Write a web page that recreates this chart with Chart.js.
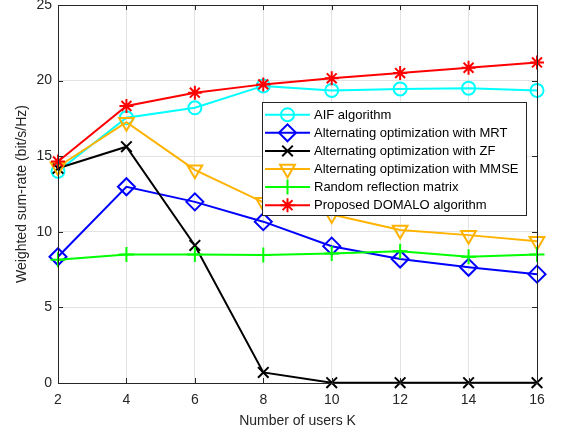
<!DOCTYPE html>
<html>
<head>
<meta charset="utf-8">
<style>
  html, body { margin: 0; padding: 0; background: #fff; }
  #wrap { width: 562px; height: 436px; }
</style>
<script src="https://cdn.jsdelivr.net/npm/chart.js@4/dist/chart.umd.min.js"></script>
</head>
<body>
<div id="wrap"><canvas id="c" width="562" height="436"></canvas></div>
<script>
// Number of users K
const users = [2, 4, 6, 8, 10, 12, 14, 16];

// Weighted sum-rate (bit/s/Hz) per scheme
const aif    = [14.0, 17.55, 18.2, 19.65, 19.35, 19.45, 19.5, 19.35];
const mrt    = [8.35, 12.98, 11.98, 10.67, 9.05, 8.2, 7.65, 7.2];
const zf     = [14.2, 15.63, 9.1, 0.7, 0.02, 0.02, 0.02, 0.02];
const mmse   = [14.3, 17.25, 14.1, 11.95, 11.15, 10.12, 9.78, 9.38];
const random = [8.15, 8.5, 8.5, 8.47, 8.57, 8.72, 8.35, 8.5];
const domalo = [14.65, 18.32, 19.2, 19.75, 20.15, 20.5, 20.85, 21.2];

const seriesNames = [
  'AIF algorithm',
  'Alternating optimization with MRT',
  'Alternating optimization with ZF',
  'Alternating optimization with MMSE',
  'Random reflection matrix',
  'Proposed DOMALO algorithm'
];
const seriesValues = [aif, mrt, zf, mmse, random, domalo];
const seriesColors = ['#00ffff', '#0000ff', '#000000', '#ffb300', '#00ff00', '#ff0000'];
const seriesMarkers = [
  { style: 'circle', radius: 6.5, rotation: 0 },
  { style: 'rectRot', radius: 8.5, rotation: 0 },
  { style: 'crossRot', radius: 7.5, rotation: 0 },
  { style: 'triangle', radius: 8.5, rotation: 180 },
  { style: 'cross', radius: 7.5, rotation: 0 },
  { style: 'star', radius: 7, rotation: 0 }
];

const yTicks = [0, 5, 10, 15, 20, 25];
const xTicks = users;

const AXIS = '#262626';
Chart.defaults.font.family = "'Liberation Sans', Arial, Helvetica, sans-serif";

const datasets = seriesNames.map((name, i) => ({
  label: name,
  data: users.map((k, j) => ({ x: k, y: seriesValues[i][j] })),
  borderColor: seriesColors[i],
  backgroundColor: 'rgba(0,0,0,0)',
  borderWidth: 2,
  pointStyle: seriesMarkers[i].style,
  pointRadius: seriesMarkers[i].radius,
  pointRotation: seriesMarkers[i].rotation,
  pointBorderWidth: 2,
  pointBorderColor: seriesColors[i],
  pointBackgroundColor: 'rgba(0,0,0,0)',
  tension: 0,
  clip: false,
  order: seriesNames.length - 1 - i
}));

// Fixed plot rectangle (axes box) inside the canvas
const pinArea = {
  id: 'pinArea',
  afterLayout(chart) {
    const T = 5, B = 383, L = 58, R = 537, H = chart.height;
    Object.assign(chart.chartArea, { top: T, bottom: B, left: L, right: R, width: R - L, height: B - T });
    const { x, y } = chart.scales;
    Object.assign(y, { top: T, bottom: B, height: B - T, left: 0, right: L, width: L });
    Object.assign(x, { left: L, right: R, width: R - L, top: B, bottom: H, height: H - B });
    x.configure();
    y.configure();
  }
};

// Box outline with inward tick marks on all four sides
const boxPlugin = {
  id: 'box',
  afterDatasetsDraw(chart) {
    const { ctx, chartArea: a, scales } = chart;
    ctx.save();
    ctx.strokeStyle = AXIS;
    ctx.lineWidth = 1;
    ctx.beginPath();
    ctx.rect(Math.round(a.left) + 0.5, Math.round(a.top) + 0.5,
             Math.round(a.right - a.left), Math.round(a.bottom - a.top));
    ctx.stroke();
    const tl = 5;
    ctx.beginPath();
    xTicks.forEach(v => {
      const x = Math.round(scales.x.getPixelForValue(v)) + 0.5;
      ctx.moveTo(x, a.bottom); ctx.lineTo(x, a.bottom - tl);
      ctx.moveTo(x, a.top); ctx.lineTo(x, a.top + tl);
    });
    yTicks.forEach(v => {
      const y = Math.round(scales.y.getPixelForValue(v)) + 0.5;
      ctx.moveTo(a.left, y); ctx.lineTo(a.left + tl, y);
      ctx.moveTo(a.right, y); ctx.lineTo(a.right - tl, y);
    });
    ctx.stroke();
    ctx.restore();
  }
};

// Legend box inside the plot area
const legendPlugin = {
  id: 'innerLegend',
  afterDatasetsDraw(chart) {
    const { ctx } = chart;
    const left = 262.5, top = 102.5, width = 264, height = 113;
    const rowH = 18.1, firstRow = 114.7;
    ctx.save();
    ctx.fillStyle = '#ffffff';
    ctx.fillRect(left, top, width, height);
    ctx.strokeStyle = AXIS;
    ctx.lineWidth = 1;
    ctx.strokeRect(left, top, width, height);
    chart.data.datasets.forEach((ds, i) => {
      const y = firstRow + i * rowH;
      ctx.strokeStyle = ds.borderColor;
      ctx.lineWidth = 2;
      ctx.beginPath();
      ctx.moveTo(265, y); ctx.lineTo(310, y);
      ctx.stroke();
      ctx.fillStyle = 'rgba(0,0,0,0)';
      ctx.lineWidth = 2;
      Chart.helpers.drawPoint(ctx, {
        pointStyle: ds.pointStyle,
        radius: ds.pointRadius,
        rotation: ds.pointRotation,
        borderWidth: 2
      }, 287.5, y);
      ctx.fillStyle = '#000000';
      ctx.font = "13px 'Liberation Sans', Arial, sans-serif";
      ctx.textAlign = 'left';
      ctx.textBaseline = 'middle';
      ctx.fillText(ds.label, 314, y + 0.5);
    });
    ctx.restore();
  }
};

new Chart(document.getElementById('c'), {
  type: 'line',
  data: { datasets },
  plugins: [pinArea, boxPlugin, legendPlugin],
  options: {
    responsive: false,
    devicePixelRatio: 1,
    animation: false,
    layout: { padding: { top: 0, right: 25, left: 0, bottom: 0 } },
    plugins: { legend: { display: false }, tooltip: { enabled: false } },
    scales: {
      x: {
        type: 'linear',
        min: 2, max: 16,
        afterBuildTicks: s => { s.ticks = xTicks.map(v => ({ value: v })); },
        grid: { color: '#e3e3e3', lineWidth: 1, drawTicks: false },
        border: { display: false },
        ticks: { color: AXIS, font: { size: 14 }, padding: 9, maxRotation: 0 },
        title: {
          display: true, text: 'Number of users K', color: AXIS,
          font: { size: 14 }, padding: { top: 0, bottom: 6 }
        }
      },
      y: {
        type: 'linear',
        min: 0, max: 25,
        afterBuildTicks: s => { s.ticks = yTicks.map(v => ({ value: v })); },
        grid: { color: '#e3e3e3', lineWidth: 1, drawTicks: false },
        border: { display: false },
        ticks: { color: AXIS, font: { size: 14 }, padding: 6 },
        title: {
          display: true, text: 'Weighted sum-rate (bit/s/Hz)', color: AXIS,
          font: { size: 14 }, padding: { top: 13.5, bottom: 0 }
        }
      }
    }
  }
});
</script>
</body>
</html>
